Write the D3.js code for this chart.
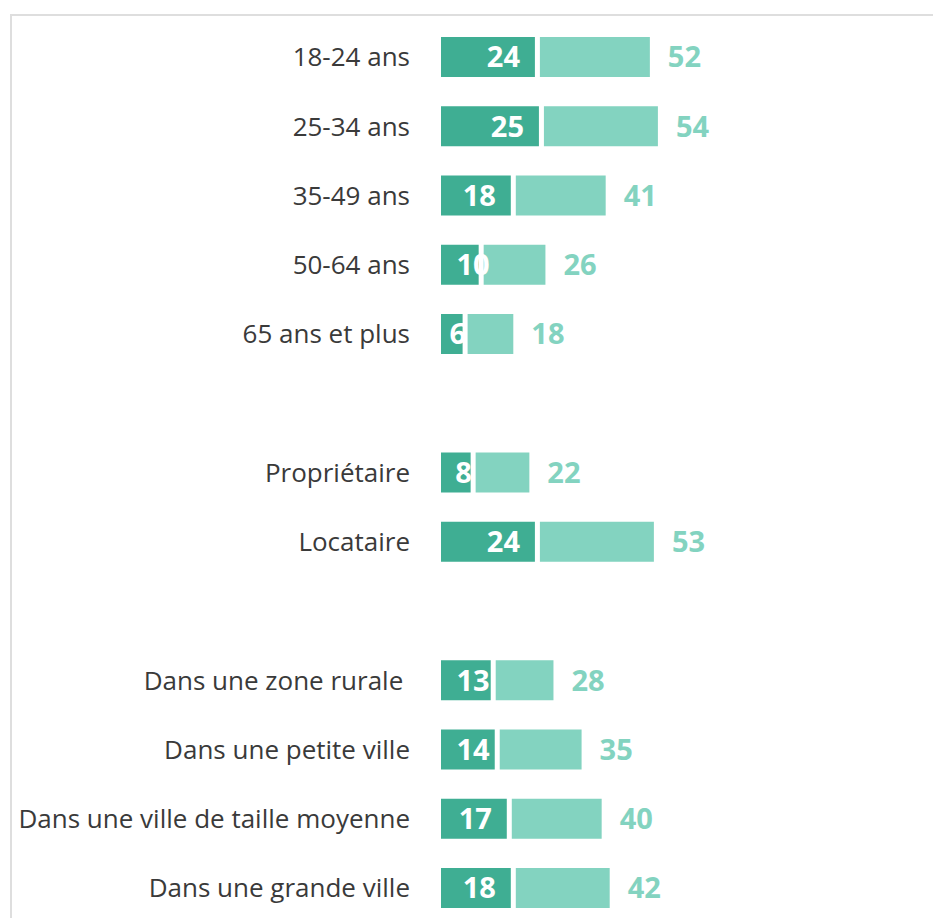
<!DOCTYPE html>
<html>
<head>
<meta charset="utf-8">
<script src="https://cdn.jsdelivr.net/npm/d3@7"></script>
<style>
  body { margin: 0; background: #fff; }
  svg { display: block; }
  text { font-family: "Open Sans", Lato, sans-serif; }
</style>
</head>
<body>
<div id="chart"></div>
<script>
// three groups of rows, a blank row between groups
var ageLabels = ["18-24 ans", "25-34 ans", "35-49 ans", "50-64 ans", "65 ans et plus"];
var ageInner = [24, 25, 18, 10, 6];
var ageTotal = [52, 54, 41, 26, 18];

var homeLabels = ["Propriétaire", "Locataire"];
var homeInner = [8, 24];
var homeTotal = [22, 53];

var areaLabels = ["Dans une zone rurale ", "Dans une petite ville", "Dans une ville de taille moyenne", "Dans une grande ville"];
var areaInner = [13, 14, 17, 18];
var areaTotal = [28, 35, 40, 42];

var groups = [
    {labels: ageLabels, inner: ageInner, total: ageTotal},
    {labels: homeLabels, inner: homeInner, total: homeTotal},
    {labels: areaLabels, inner: areaInner, total: areaTotal}
];

var rows = [];
var slots = [];
groups.forEach(function(g, gi) {
    if (gi > 0) slots.push("gap" + gi);
    g.labels.forEach(function(l, i) {
        rows.push({label: l, inner: g.inner[i], total: g.total[i]});
        slots.push(l);
    });
});

var width = 933, height = 918;
var darkColor = "#3fae93", lightColor = "#83d3c0";

var svg = d3.select("#chart").append("svg")
    .attr("width", width)
    .attr("height", height);

// frame
svg.append("path")
    .attr("d", "M11," + height + "V15H" + width)
    .attr("fill", "none")
    .attr("stroke", "#dedede")
    .attr("stroke-width", 2);

var x = d3.scaleLinear().domain([0, 60]).range([441, 441 + 241]);
var y = d3.scalePoint().domain(slots).range([57, 888]);
var barH = 40;
var gap = 2.5;

var row = svg.selectAll(".row")
    .data(rows)
    .enter().append("g")
    .attr("class", "row")
    .attr("transform", function(d) { return "translate(0," + y(d.label) + ")"; });

row.append("rect")
    .attr("x", function(d) { return x(d.inner) + gap; })
    .attr("y", -barH / 2)
    .attr("width", function(d) { return x(d.total) - x(d.inner) - gap; })
    .attr("height", barH)
    .attr("fill", lightColor);

row.append("rect")
    .attr("x", x(0))
    .attr("y", -barH / 2)
    .attr("width", function(d) { return x(d.inner) - x(0) - gap; })
    .attr("height", barH)
    .attr("fill", darkColor);

row.append("text")
    .attr("x", 410)
    .attr("dy", "0.36em")
    .attr("text-anchor", "end")
    .style("white-space", "pre")
    .style("font-size", "26px")
    .attr("fill", "#3a3a3a")
    .text(function(d) { return d.label; });

// inner value, white, sits near the end of the dark bar
row.append("text")
    .attr("x", function(d) {
        var w = x(d.inner) - x(0);
        if (w < 36) return x(0) + w * 0.7;
        return Math.max(x(d.inner) - 34, x(0) + 32);
    })
    .attr("dy", "0.36em")
    .attr("text-anchor", "middle")
    .style("font-size", "29px")
    .style("font-weight", "bold")
    .attr("fill", "#fff")
    .text(function(d) { return d.inner; });

row.append("text")
    .attr("x", function(d) { return x(d.total) + 18; })
    .attr("dy", "0.36em")
    .style("font-size", "29px")
    .style("font-weight", "bold")
    .attr("fill", lightColor)
    .text(function(d) { return d.total; });
</script>
</body>
</html>
